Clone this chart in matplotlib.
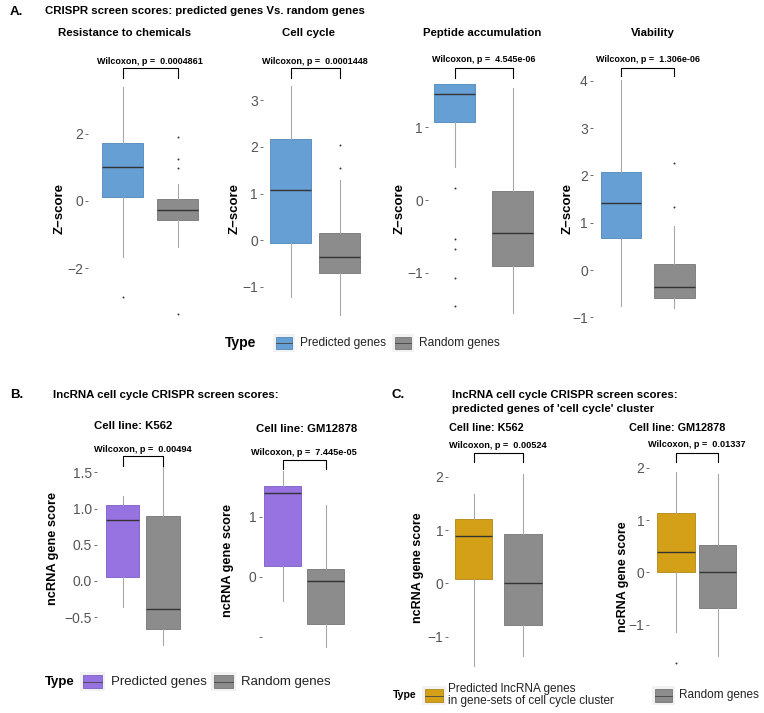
import matplotlib
matplotlib.use("Agg")
import matplotlib.pyplot as plt
from matplotlib.patches import Rectangle

plt.rcParams['font.family'] = ['Liberation Sans', 'DejaVu Sans']

W, H = 764, 713

# box stats: [whislo, q1, med, q3, whishi]
chem_pred = [-1.65, 0.13, 1.00, 1.71, 3.39]
chem_pred_out = [-2.84]
chem_rand = [-1.36, -0.55, -0.28, 0.06, 0.50]
chem_rand_out = [1.91, 1.25, 0.99, -3.36]

cyc_pred = [-1.22, -0.07, 1.07, 2.17, 3.31]
cyc_pred_out = []
cyc_rand = [-1.61, -0.70, -0.36, 0.14, 1.29]
cyc_rand_out = [2.04, 1.55]

pep_pred = [0.45, 1.07, 1.46, 1.60, 1.60]
pep_pred_out = [0.17, -0.54, -0.68, -1.08, -1.46]
pep_rand = [-1.56, -0.91, -0.45, 0.13, 1.55]
pep_rand_out = []

via_pred = [-0.76, 0.67, 1.42, 2.07, 4.02]
via_pred_out = []
via_rand = [-0.81, -0.60, -0.36, 0.13, 0.92]
via_rand_out = [2.26, 1.34]

k562_pred = [-0.36, 0.06, 0.84, 1.05, 1.17]
k562_rand = [-0.88, -0.66, -0.38, 0.89, 1.57]
gm_pred = [-0.40, 0.18, 1.39, 1.51, 1.77]
gm_rand = [-1.17, -0.78, -0.07, 0.13, 1.19]

k562_cc_pred = [-1.55, 0.09, 0.89, 1.21, 1.68]
k562_cc_rand = [-1.36, -0.78, 0.00, 0.92, 2.06]
gm_cc_pred = [-1.14, 0.00, 0.39, 1.14, 1.92]
gm_cc_pred_out = [-1.74]
gm_cc_rand = [-1.60, -0.68, 0.00, 0.52, 1.87]

pvals_a = ["0.0004861", "0.0001448", "4.545e-06", "1.306e-06"]
pvals_b = ["0.00494", "7.445e-05"]
pvals_c = ["0.00524", "0.01337"]

blue, purple, gold, grey = '#659FD4', '#9673E0', '#D4A017', '#8C8C8C'
edges = {blue: '#4F86BA', purple: '#7D5CC4', gold: '#B08818', grey: '#767676'}

fig = plt.figure(figsize=(W / 100, H / 100), dpi=100)
ov = fig.add_axes([0, 0, 1, 1])
ov.set_xlim(0, W)
ov.set_ylim(H, 0)
ov.axis('off')


def panel(left, c1, c2, bw, zero, ppu, top, bottom, stats, outs, cols,
          ticks, ticklabels, br, lab_y, pval, fs=6.5):
    s = c2 - c1
    right = c2 + (c1 - left)
    ax = fig.add_axes([left / W, 1 - bottom / H, (right - left) / W, (bottom - top) / H])
    ax.set_xlim(1 - (c1 - left) / s, 2 + (right - c2) / s)
    ax.set_ylim((zero - bottom) / ppu, (zero - top) / ppu)
    bx = []
    for st, o in zip(stats, outs):
        bx.append(dict(whislo=st[0], q1=st[1], med=st[2], q3=st[3], whishi=st[4], fliers=o))
    res = ax.bxp(bx, positions=[1, 2], widths=bw / s, patch_artist=True, showcaps=False,
                 medianprops=dict(color='#333333', lw=1),
                 whiskerprops=dict(color='#a8a8a8', lw=0.8),
                 flierprops=dict(marker='.', markersize=2.8, markerfacecolor='#333333',
                                 markeredgecolor='none'))
    for b, c in zip(res['boxes'], cols):
        b.set_facecolor(c)
        b.set_edgecolor(edges[c])
        b.set_linewidth(0.6)
    for sp in ax.spines.values():
        sp.set_visible(False)
    ax.set_xticks([])
    ax.set_yticks(ticks)
    ax.set_yticklabels(ticklabels)
    ax.tick_params(axis='y', length=2.2, width=0.6, color='#555555', pad=1.5,
                   labelsize=10, labelcolor='#555555')
    ax.patch.set_alpha(0)
    # bracket
    yt = (zero - br[0]) / ppu
    yb = (zero - br[1]) / ppu
    ax.plot([1, 1, 2, 2], [yb, yt, yt, yb], color='black', lw=0.8, clip_on=False)
    ov.text((c1 + c2) / 2, lab_y, "Wilcoxon, p =  " + pval, ha='center', va='center',
            fontsize=fs, fontweight='bold')
    return ax


def ylab(x, y, txt, fs=9.5):
    ov.text(x, y, txt, rotation=90, ha='center', va='center', fontsize=fs, fontweight='bold')


def title(x, y, txt, fs=8.2, ha='center'):
    ov.text(x, y, txt, ha=ha, va='center', fontsize=fs, fontweight='bold')


m = '\u2212'
# ---- Panel A
ov.text(10, 12, "A.", fontsize=9.5, fontweight='bold', va='center')
title(45, 11, "CRISPR screen scores: predicted genes Vs. random genes", ha='left')
ta, ba = 45, 330
panel(88, 122.5, 177.5, 41, 201, 33.7, ta, ba, [chem_pred, chem_rand],
      [chem_pred_out, chem_rand_out], [blue, grey], [-2, 0, 2], [m + '2', '0', '2'],
      (68, 78), 61, pvals_a[0])
panel(263, 290.5, 339.5, 41, 240, 46.5, ta, ba, [cyc_pred, cyc_rand],
      [cyc_pred_out, cyc_rand_out], [blue, grey], [-1, 0, 1, 2, 3],
      [m + '1', '0', '1', '2', '3'], (68, 78), 61, pvals_a[1])
panel(428, 454.5, 512.5, 41, 200, 72.5, ta, ba, [pep_pred, pep_rand],
      [pep_pred_out, pep_rand_out], [blue, grey], [-1, 0, 1], [m + '1', '0', '1'],
      (68, 78), 60, pvals_a[2])
panel(593, 621, 674.5, 41, 270, 47.3, ta, ba, [via_pred, via_rand],
      [via_pred_out, via_rand_out], [blue, grey], [-1, 0, 1, 2, 3, 4],
      [m + '1', '0', '1', '2', '3', '4'], (68, 76), 60, pvals_a[3])
title(125, 33, "Resistance to chemicals")
title(309, 33, "Cell cycle")
title(482, 33, "Peptide accumulation")
title(653, 33, "Viability")
for x in (60, 235, 400, 568):
    ylab(x, 208, "Z" + m + "score")


def key(x, y, w, h, c):
    ov.add_patch(Rectangle((x - 3, y - 3), w + 6, h + 6, facecolor='#F2F2F2', edgecolor='none'))
    ov.add_patch(Rectangle((x, y), w, h, facecolor=c, edgecolor=edges[c], lw=0.6))
    ov.plot([x, x + w], [y + h / 2, y + h / 2], color='#444444', lw=0.6)


ov.text(225, 343, "Type", fontsize=10, fontweight='bold', va='center')
key(276, 337, 16, 12, blue)
ov.text(300, 343, "Predicted genes", fontsize=8.6, va='center', color='#222222')
key(395, 337, 16, 12, grey)
ov.text(419, 343, "Random genes", fontsize=8.6, va='center', color='#222222')

# ---- Panel B
ov.text(10, 395, "B.", fontsize=9.5, fontweight='bold', va='center')
title(53, 395, "lncRNA cell cycle CRISPR screen scores:", ha='left')
tb, bb = 440, 672
panel(97, 122.7, 163, 33.5, 581, 72.5, tb, bb, [k562_pred, k562_rand], [[], []],
      [purple, grey], [-0.5, 0, 0.5, 1.0, 1.5], [m + '0.5', '0.0', '0.5', '1.0', '1.5'],
      (456, 466), 449, pvals_b[0], fs=6.6)
panel(261.7, 282.7, 325.8, 36.7, 576.7, 60, tb, bb, [gm_pred, gm_rand], [[], []],
      [purple, grey], [-1, 0, 1], ['', '0', '1'], (460, 469.3), 452.7, pvals_b[1], fs=6.6)
title(133, 426, "Cell line: K562")
title(307, 429, "Cell line: GM12878")
ylab(53, 548, "ncRNA gene score", fs=9.2)
ylab(228, 560, "ncRNA gene score", fs=9.2)

ov.text(45, 682, "Type", fontsize=9.5, fontweight='bold', va='center')
key(83, 675, 19, 13, purple)
ov.text(111, 682, "Predicted genes", fontsize=9.5, va='center', color='#222222')
key(214, 675, 19, 13, grey)
ov.text(241, 682, "Random genes", fontsize=9.5, va='center', color='#222222')

# ---- Panel C
ov.text(392, 395, "C.", fontsize=9.5, fontweight='bold', va='center')
title(452, 395, "lncRNA cell cycle CRISPR screen scores:", ha='left')
title(452, 409, "predicted genes of 'cell cycle' cluster", ha='left')
panel(448.3, 473.7, 522.8, 37.5, 583.3, 53.3, tb, bb, [k562_cc_pred, k562_cc_rand],
      [[], []], [gold, grey], [-1, 0, 1, 2], [m + '1', '0', '1', '2'],
      (452.7, 461.7), 445, pvals_c[0], fs=6.6)
panel(649.3, 676, 717.7, 37.5, 572.3, 52.3, tb, bb, [gm_cc_pred, gm_cc_rand],
      [gm_cc_pred_out, []], [gold, grey], [-1, 0, 1, 2], [m + '1', '0', '1', '2'],
      (453.3, 461.7), 444.3, pvals_c[1], fs=6.6)
title(486, 428, "Cell line: K562", fs=7.8)
title(677, 428, "Cell line: GM12878", fs=7.8)
ylab(418, 568, "ncRNA gene score", fs=9)
ylab(623, 577, "ncRNA gene score", fs=9)

ov.text(393, 695, "Type", fontsize=7.6, fontweight='bold', va='center')
key(425, 689, 18, 13, gold)
ov.text(448, 695, "Predicted lncRNA genes\nin gene-sets of cell cycle cluster", fontsize=8.5,
        va='center', color='#222222', linespacing=1.1)
key(655, 689, 17, 13, grey)
ov.text(679, 695, "Random genes", fontsize=8.5, va='center', color='#222222')

fig.savefig("out.png", dpi=100)
